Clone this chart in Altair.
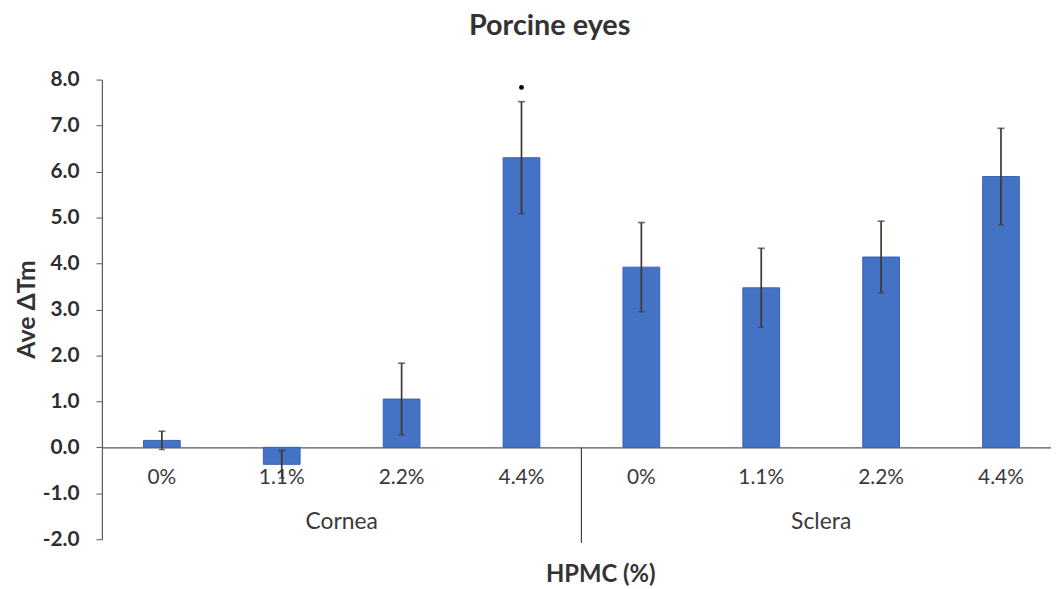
import altair as alt
import pandas as pd

# ---- data ----
groups = ["Cornea", "Cornea", "Cornea", "Cornea", "Sclera", "Sclera", "Sclera", "Sclera"]
levels = ["0%", "1.1%", "2.2%", "4.4%", "0%", "1.1%", "2.2%", "4.4%"]
means = [0.15, -0.37, 1.05, 6.30, 3.92, 3.47, 4.14, 5.89]
errs = [0.20, 0.30, 0.78, 1.22, 0.97, 0.86, 0.78, 1.05]
y_ticks = [-2, -1, 0, 1, 2, 3, 4, 5, 6, 7, 8]
group_names = ["Cornea", "Sclera"]
sig_key = ["Cornea 4.4%"]
sig_y = [7.83]

keys = [f"{g} {l}" for g, l in zip(groups, levels)]
df = pd.DataFrame({"key": keys, "group": groups, "level": levels, "mean": means, "err": errs})
df["lo"] = df["mean"] - df["err"]
df["hi"] = df["mean"] + df["err"]

FONT = "Lato"
BAR = "#4472C4"
EB = "#3f362f"
AX = "#595959"

x_scale = alt.Scale(domain=keys, range=[0, 966], paddingInner=0, paddingOuter=0)
y_scale = alt.Scale(domain=[-2, 8], nice=False, zero=False)

x_axis = alt.Axis(
    title="HPMC (%)", labelExpr="split(datum.label, ' ')[1]", ticks=False,
    offset=-92.6, labelAngle=0, labelPadding=19, labelFont=FONT, labelFontSize=21,
    labelColor="#3a3a3a", domainColor=AX, domainWidth=1.2,
    titleFont=FONT, titleFontSize=24, titleFontWeight="bold", titleColor="#333333",
    titleX=502, titleY=128, titleBaseline="middle", titleAlign="center",
)
y_axis = alt.Axis(
    title="Ave ΔTm", values=y_ticks, grid=False,
    labelExpr="(datum.value < 0 ? '-' : '') + format(abs(datum.value), '.1f')",
    labelFont=FONT, labelFontSize=21, labelFontWeight="bold", labelColor="#2e2e2e",
    labelPadding=17, tickSize=6, tickColor=AX, domainColor=AX, domainWidth=1.2,
    titleFont=FONT, titleFontSize=25, titleFontWeight="bold", titleColor="#333333",
    titleAngle=270, titleX=-76, titleY=231, titleBaseline="middle", titleAlign="center",
)

X = alt.X("key:N", scale=x_scale, axis=x_axis)

bars = alt.Chart(df).mark_bar(width=37, color=BAR, stroke="#3763b5", strokeWidth=1).encode(
    x=X, y=alt.Y("mean:Q", scale=y_scale, axis=y_axis), y2=alt.datum(0)
)
err_line = alt.Chart(df).mark_rule(color=EB, strokeWidth=1.7).encode(
    x=X, y=alt.Y("lo:Q", scale=y_scale, axis=y_axis), y2="hi:Q"
)
cap_hi = alt.Chart(df).mark_tick(color=EB, size=7, thickness=1.7, orient="horizontal").encode(
    x=X, y=alt.Y("hi:Q", scale=y_scale, axis=y_axis)
)
cap_lo = alt.Chart(df).mark_tick(color=EB, size=6, thickness=1.4, orient="horizontal").encode(
    x=X, y=alt.Y("lo:Q", scale=y_scale, axis=y_axis)
)

sep_df = pd.DataFrame({"key": ["Sclera 0%"]})
sep = alt.Chart(sep_df).mark_rule(color="#404040", strokeWidth=1.2).encode(
    x=alt.X("key:N", scale=x_scale, axis=x_axis, bandPosition=0),
    y=alt.datum(0, scale=y_scale), y2=alt.datum(-2.08),
)

grp_df = pd.DataFrame({"key": ["Cornea 2.2%", "Sclera 2.2%"], "label": group_names})
grp = alt.Chart(grp_df).mark_text(font=FONT, fontSize=23, color="#3a3a3a", baseline="middle").encode(
    x=alt.X("key:N", scale=x_scale, axis=x_axis, bandPosition=0),
    y=alt.datum(-1.63), text="label:N",
)

sig_df = pd.DataFrame({"key": sig_key, "y": sig_y})
sig = alt.Chart(sig_df).mark_point(filled=True, color="black", size=24, opacity=1).encode(
    x=X, y=alt.Y("y:Q", scale=y_scale, axis=y_axis)
)

chart = alt.layer(bars, err_line, cap_hi, cap_lo, sep, grp, sig).properties(
    width=956, height=463,
    title=alt.TitleParams("Porcine eyes", font=FONT, fontSize=29, fontWeight="bold",
                          color="#333333", anchor="middle", dx=-27, offset=28),
    autosize=alt.AutoSizeParams(type="none"),
    padding={"left": 94.6, "top": 70, "right": 0, "bottom": 48},
).configure_view(stroke=None)

chart.save("out.html", embed_options={"renderer": "svg", "actions": False})
